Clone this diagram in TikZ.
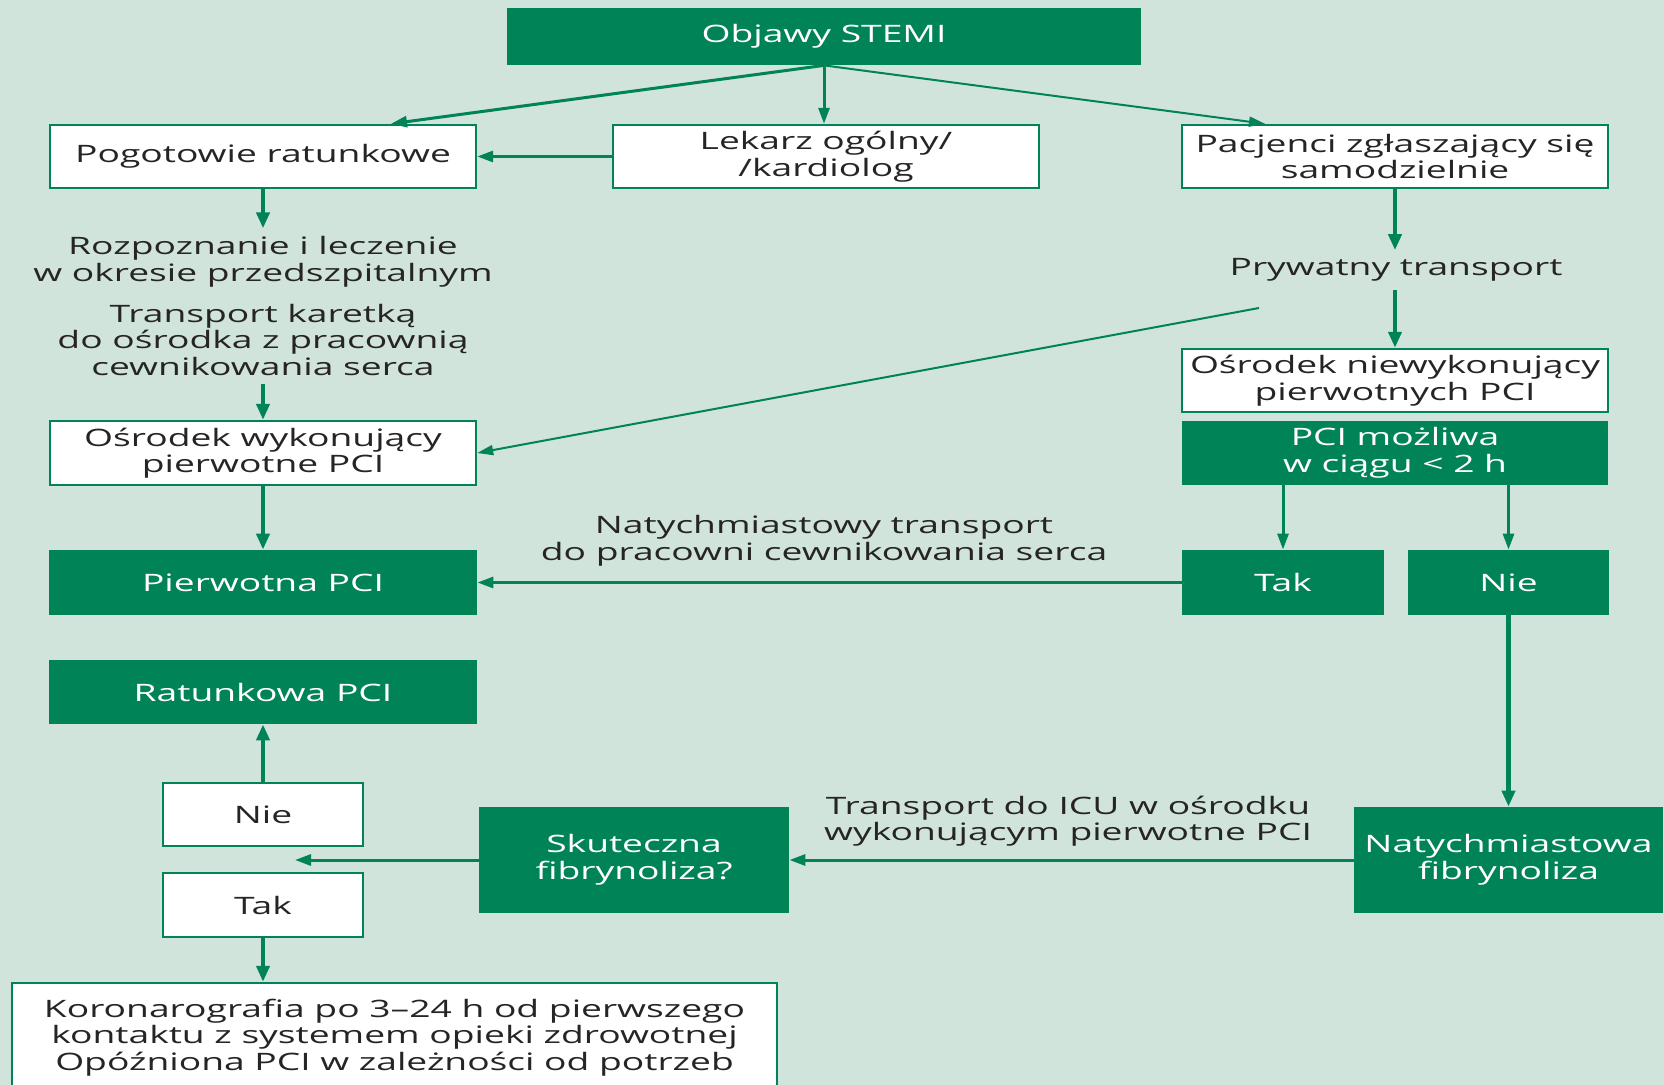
\documentclass[tikz,border=0pt]{standalone}
\usepackage{fontspec}
\setmainfont{Open Sans}[FakeStretch=1.55]
\usetikzlibrary{arrows.meta,calc}
\definecolor{stemigreen}{RGB}{0,131,87}
\definecolor{paleback}{RGB}{209,228,220}
\definecolor{inktext}{RGB}{38,36,36}
\tikzstyle{greenbox} = [rectangle, fill=stemigreen, text=white, align=center, inner sep=0pt]
\tikzstyle{whitebox} = [rectangle, draw=stemigreen, line width=1.2pt, fill=white, text=inktext, align=center, inner sep=0pt]
\tikzstyle{freetext} = [align=center, text=inktext, inner sep=4pt]
\tikzstyle{thickarr} = [draw=stemigreen, line width=2.4pt, -{Triangle[length=8pt,width=6.5pt]}]
\tikzstyle{midarr} = [draw=stemigreen, line width=1.5pt, -{Triangle[length=8pt,width=5.5pt]}]
\tikzstyle{thinarr} = [draw=stemigreen, line width=1pt, -{Triangle[length=8pt,width=5pt]}]

\begin{document}
\begin{tikzpicture}[x=0.5pt,y=-0.5pt,font=\fontsize{12}{13.25}\selectfont]
\useasboundingbox (0,0) rectangle (1664,1085);
\clip (0,0) rectangle (1664,1085);
\fill[paleback] (0,0) rectangle (1664,1085);

% first row
\node[greenbox, minimum width=317pt, minimum height=28.5pt] (objawy) at (824,36.5) {Objawy STEMI};
\node[whitebox, minimum width=213pt, minimum height=31.5pt] (pogotowie) at (263,156.5) {Pogotowie ratunkowe};
\node[whitebox, minimum width=213pt, minimum height=31.5pt] (lekarz) at (826,156.5) {Lekarz ogólny/\\/kardiolog};
\node[whitebox, minimum width=213pt, minimum height=31.5pt] (pacjenci) at (1395,156.5) {Pacjenci zgłaszający się\\samodzielnie};

% left column
\node[freetext] (rozp) at (263,262) {Rozpoznanie i leczenie\\w okresie przedszpitalnym};
\node[freetext] (karetka) at (263,340) {Transport karetką\\do ośrodka z pracownią\\cewnikowania serca};
\node[whitebox, minimum width=213pt, minimum height=32pt] (osrodekwyk) at (263,453) {Ośrodek wykonujący\\pierwotne PCI};
\node[greenbox, minimum width=214pt, minimum height=32.5pt] (pierwotna) at (263,582.5) {Pierwotna PCI};
\node[greenbox, minimum width=214pt, minimum height=32pt] (ratunkowa) at (263,692) {Ratunkowa PCI};
\node[whitebox, minimum width=100pt, minimum height=31.5pt] (nieb) at (263,814.5) {Nie};
\node[whitebox, minimum width=100pt, minimum height=32pt] (takb) at (263,905) {Tak};
\node[whitebox, minimum width=382.5pt, minimum height=54.5pt] (koronaro) at (394.5,1037.5) {Koronarografia po 3--24 h od pierwszego\\kontaktu z systemem opieki zdrowotnej\\Opóźniona PCI w zależności od potrzeb};

% right column
\node[freetext] (prywatny) at (1396,270) {Prywatny transport};
\node[whitebox, minimum width=213pt, minimum height=31.5pt] (osrodekniewyk) at (1395,380.5) {Ośrodek niewykonujący\\pierwotnych PCI};
\node[greenbox, minimum width=213pt, minimum height=32pt] (mozliwa) at (1395,453) {PCI możliwa\\w ciągu < 2 h};
\node[greenbox, minimum width=101pt, minimum height=32.5pt] (taka) at (1283,582.5) {Tak};
\node[greenbox, minimum width=100.5pt, minimum height=32.5pt] (niea) at (1508.5,582.5) {Nie};
\node[greenbox, minimum width=154.5pt, minimum height=53pt] (natychfib) at (1508.5,860) {Natychmiastowa\\fibrynoliza};
\node[greenbox, minimum width=155pt, minimum height=53pt] (skuteczna) at (634,860) {Skuteczna\\fibrynoliza?};

% labels on the long connectors
\node[freetext] (lbltak) at (824,541) {Natychmiastowy transport\\do pracowni cewnikowania serca};
\node[freetext] (lblicu) at (1068,821) {Transport do ICU w ośrodku\\wykonującym pierwotne PCI};

\coordinate (prywstart) at (1259,308);
\coordinate (skutend) at (295,860);

% connectors
\draw[midarr] (objawy.south) -- ($(pogotowie.north)+(128,0)$);
\draw[midarr] (objawy.south) -- (objawy.south |- lekarz.north);
\draw[thinarr] (objawy.south) -- ($(pacjenci.north)+(-130,0)$);
\draw[midarr] (lekarz.west) -- (pogotowie.east);
\draw[thickarr] (pogotowie.south) -- (pogotowie.south |- rozp.north);
\draw[thickarr] (karetka.south) -- (karetka.south |- osrodekwyk.north);
\draw[thickarr] (osrodekwyk.south) -- (pierwotna.north);
\draw[thickarr] (pacjenci.south) -- (pacjenci.south |- prywatny.north);
\draw[thickarr] (prywatny.south -| osrodekniewyk.north) -- (osrodekniewyk.north);
\draw[thinarr] (prywstart) -- (osrodekwyk.east);
\draw[midarr] (taka.north |- mozliwa.south) -- (taka.north);
\draw[midarr] (niea.north |- mozliwa.south) -- (niea.north);
\draw[midarr] (taka.west) -- (pierwotna.east);
\draw[thickarr] (niea.south) -- (natychfib.north);
\draw[midarr] (natychfib.west) -- (skuteczna.east);
\draw[midarr] (skuteczna.west) -- (skutend);
\draw[thickarr] (nieb.north) -- (ratunkowa.south);
\draw[thickarr] (takb.south) -- (takb.south |- koronaro.north);
\end{tikzpicture}
\end{document}
